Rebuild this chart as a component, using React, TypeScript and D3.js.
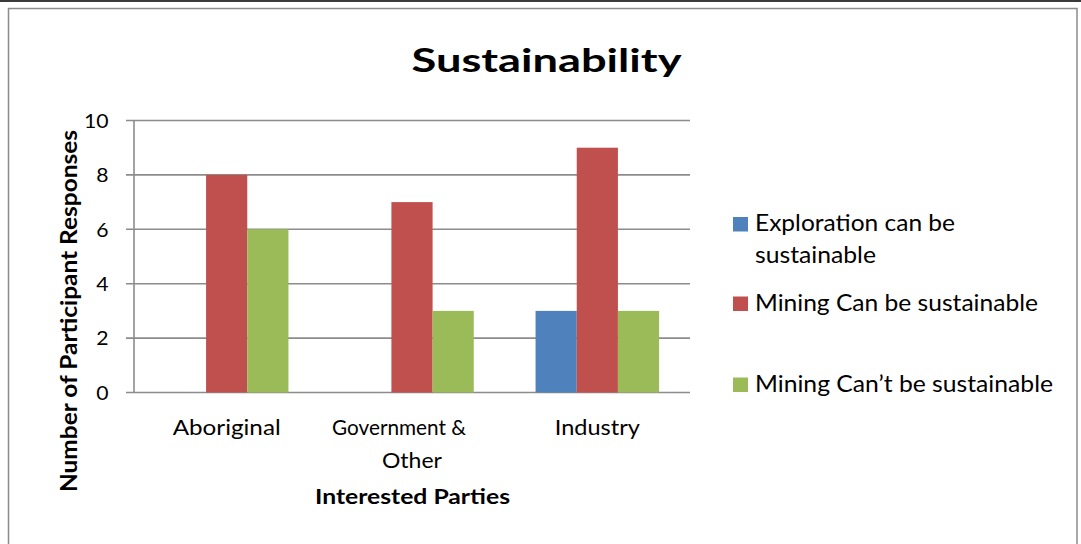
import React from "react";
import * as d3 from "d3";

const categories = ["Aboriginal", "Government & Other", "Industry"];
const categoryLines = [["Aboriginal"], ["Government &", "Other"], ["Industry"]];
const seriesNames = ["Exploration can be sustainable", "Mining Can be sustainable", "Mining Can\u2019t be sustainable"];
const legendLines = [["Exploration can be", "sustainable"], ["Mining Can be sustainable"], ["Mining Can\u2019t be sustainable"]];
const exploration = [0, 0, 3];
const miningCan = [8, 7, 9];
const miningCant = [6, 3, 3];
const yTicks = [0, 2, 4, 6, 8, 10];
const colors = ["#4F81BD", "#C0504D", "#9BBB59"];

// layout: rendered text widths (to mimic the reference's wider font)
const categoryLineWidths = [[108], [134, 60], [85]];
const categoryLineOffsets = [[0], [-13, 0], [0]];
const legendLineWidths = [[200, 121], [283], [298]];

const FONT = "Lato, 'Open Sans', sans-serif";

export default function App() {
  const W = 1081, H = 544;
  const plot = { left: 134, right: 690, top: 120.5, bottom: 392.5 };
  const series = [exploration, miningCan, miningCant];

  const x0 = d3.scaleBand<string>().domain(categories).range([plot.left, plot.right]);
  const barW = x0.bandwidth() / 4.5; // gap width 150%
  const x1 = d3.scaleBand<number>().domain([0, 1, 2]).range([0, barW * 3]);
  const y = d3.scaleLinear().domain([0, 10]).range([plot.bottom, plot.top]);

  const legendBaselines = [231, 311, 392];
  const legendSquareY = [217, 296.5, 377.5];

  return (
    <svg width={W} height={H} style={{ position: "absolute", left: 0, top: 0, background: "#fff" }} fontFamily={FONT}>
      <rect x={0} y={0} width={W} height={H} fill="#fff" />
      <line x1={0} x2={W} y1={1} y2={1} stroke="#3a3a3a" strokeWidth={2} />
      <rect x={8.5} y={8.5} width={1068.5} height={H + 10} fill="none" stroke="#8c8c8c" strokeWidth={1.5} />

      <text x={411.5} y={72} fontSize={32.5} fontWeight="bold" fill="#000" textLength={270} lengthAdjust="spacingAndGlyphs">Sustainability</text>

      {yTicks.map((t) => (
        <g key={t}>
          <line x1={126} x2={plot.right} y1={y(t)} y2={y(t)} stroke="#8c8c8c" strokeWidth={1.6} />
          <text x={108.5} y={y(t) + 7.3} textAnchor="end" fontSize={18.5} fill="#000"
            textLength={String(t).length * 12.3} lengthAdjust="spacingAndGlyphs">{t}</text>
        </g>
      ))}
      <line x1={plot.left} x2={plot.left} y1={plot.top} y2={plot.bottom} stroke="#8c8c8c" strokeWidth={1.6} />

      {categories.map((c, ci) => {
        const start = (x0(c) as number) + (x0.bandwidth() - barW * 3) / 2;
        return (
          <g key={c}>
            {series.map((s, si) =>
              s[ci] > 0 ? (
                <rect key={si} x={start + (x1(si) as number)} y={y(s[ci])} width={x1.bandwidth()} height={y(0) - y(s[ci])} fill={colors[si]} />
              ) : null
            )}
          </g>
        );
      })}

      {categories.map((c, ci) =>
        categoryLines[ci].map((l, li) => (
          <text key={c + li} x={(x0(c) as number) + x0.bandwidth() / 2 + categoryLineOffsets[ci][li]} y={435 + li * 33}
            textAnchor="middle" fontSize={21.5} fill="#000" textLength={categoryLineWidths[ci][li]} lengthAdjust="spacingAndGlyphs">{l}</text>
        ))
      )}

      <text x={412.5} y={504} textAnchor="middle" fontSize={21.5} fontWeight="bold" fill="#000" textLength={195} lengthAdjust="spacingAndGlyphs">Interested Parties</text>
      <text transform={`translate(76.5,311) rotate(-90)`} textAnchor="middle" fontSize={22} fontWeight="bold" fill="#000" textLength={362} lengthAdjust="spacingAndGlyphs">Number of Participant Responses</text>

      {seriesNames.map((n, i) => (
        <g key={n}>
          <rect x={733} y={legendSquareY[i]} width={15} height={14.5} fill={colors[i]} />
          {legendLines[i].map((l, li) => (
            <text key={li} x={755} y={legendBaselines[i] + li * 32} fontSize={23} fill="#000"
              textLength={legendLineWidths[i][li]} lengthAdjust="spacingAndGlyphs">{l}</text>
          ))}
        </g>
      ))}
    </svg>
  );
}
